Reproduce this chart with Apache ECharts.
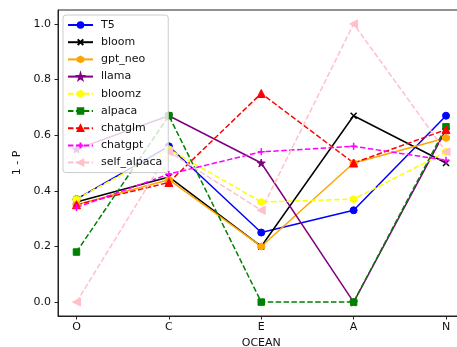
<!DOCTYPE html>
<html>
<head>
<meta charset="utf-8">
<script src="https://cdn.jsdelivr.net/npm/echarts@6/dist/echarts.min.js"></script>
<style>
  html, body { margin: 0; padding: 0; background: #fff; }
  #chart { width: 457px; height: 347px; }
</style>
</head>
<body>
<div id="chart"></div>
<script>
// OCEAN traits on the x axis
const categories = ['O', 'C', 'E', 'A', 'N']
const yTicks = [0, 0.2, 0.4, 0.6, 0.8, 1.0]

const t5 = [0.37, 0.56, 0.25, 0.33, 0.67]
const bloom = [0.36, 0.45, 0.20, 0.67, 0.50]
const gptNeo = [0.35, 0.44, 0.20, 0.50, 0.59]
const llama = [0.55, 0.67, 0.50, 0.00, 0.62]
const bloomz = [0.37, 0.55, 0.36, 0.37, 0.54]
const alpaca = [0.18, 0.67, 0.00, 0.00, 0.63]
const chatglm = [0.35, 0.43, 0.75, 0.50, 0.62]
const chatgpt = [0.34, 0.46, 0.54, 0.56, 0.51]
const selfAlpaca = [0.00, 0.54, 0.33, 1.00, 0.54]

const STAR = 'path://M50,0 L61,35 L98,35 L68,57 L79,91 L50,70 L21,91 L32,57 L2,35 L39,35 Z'
const HEX = 'path://M50,0 L93,25 L93,75 L50,100 L7,75 L7,25 Z'
const CROSS = 'path://M0,0 L10,10 M10,0 L0,10'
const PLUS = 'path://M5,0 L5,10 M0,5 L10,5'
const DASH = [5.5, 2.4]
const FONT = 'DejaVu Sans'

const seriesDefs = [
  { name: 'T5', data: t5, color: '#0000ff', symbol: 'circle', size: 7, dashed: false },
  { name: 'bloom', data: bloom, color: '#000000', symbol: CROSS, size: 6, dashed: false, stroke: true },
  { name: 'gpt_neo', data: gptNeo, color: '#ffa500', symbol: HEX, size: 7, dashed: false },
  { name: 'llama', data: llama, color: '#800080', symbol: STAR, size: 8, dashed: false },
  { name: 'bloomz', data: bloomz, color: '#ffff00', symbol: HEX, size: 7, dashed: true },
  { name: 'alpaca', data: alpaca, color: '#008000', symbol: 'rect', size: 6.5, dashed: true },
  { name: 'chatglm', data: chatglm, color: '#ff0000', symbol: 'triangle', size: 8, dashed: true },
  { name: 'chatgpt', data: chatgpt, color: '#ff00ff', symbol: PLUS, size: 7, dashed: true, stroke: true },
  { name: 'self_alpaca', data: selfAlpaca, color: '#ffc0cb', symbol: 'triangle', size: 8, dashed: true, rotate: 90 }
]

const chart = echarts.init(document.getElementById('chart'))

chart.setOption({
  animation: false,
  grid: {
    left: 58, top: 10, right: -7.5, bottom: 31,
    outerBoundsMode: 'none',
    show: true, borderColor: '#222', borderWidth: 1, backgroundColor: 'transparent'
  },
  legend: {
    orient: 'vertical',
    left: 63,
    top: 15,
    padding: [4.5, 6, 4.5, 4],
    itemWidth: 25,
    itemHeight: 7,
    itemGap: 6.2,
    backgroundColor: 'rgba(255,255,255,0.8)',
    borderColor: '#cccccc',
    borderWidth: 1,
    borderRadius: 3,
    textStyle: { fontFamily: FONT, fontSize: 11, color: '#111', padding: [0, 0, 0, 3] },
    data: seriesDefs.map((s) => s.name)
  },
  xAxis: {
    type: 'value',
    min: -0.2,
    max: 4.2,
    name: 'OCEAN',
    nameLocation: 'middle',
    nameGap: 20,
    nameTextStyle: { fontFamily: FONT, fontSize: 11, color: '#111' },
    axisLine: { show: true, onZero: false, lineStyle: { color: '#222', width: 1 } },
    axisTick: { show: true, length: 3.5, lineStyle: { color: '#222' }, customValues: categories.map((c, i) => i) },
    axisLabel: {
      margin: 6,
      fontFamily: FONT, fontSize: 11, color: '#111',
      customValues: categories.map((c, i) => i),
      formatter: (v) => categories[Math.round(v)]
    },
    splitLine: { show: false }
  },
  yAxis: {
    type: 'value',
    min: -0.05,
    max: 1.05,
    name: '1 - P',
    nameLocation: 'middle',
    nameGap: 33,
    nameTextStyle: { fontFamily: FONT, fontSize: 11, color: '#111' },
    axisLine: { show: true, onZero: false, lineStyle: { color: '#222', width: 1 } },
    axisTick: { show: true, length: 3.5, lineStyle: { color: '#222' }, customValues: yTicks },
    axisLabel: {
      margin: 7,
      fontFamily: FONT, fontSize: 11, color: '#111',
      customValues: yTicks,
      formatter: (v) => v.toFixed(1)
    },
    splitLine: { show: false }
  },
  series: seriesDefs.map((s) => ({
    name: s.name,
    type: 'line',
    data: s.data.map((v, i) => [i, v]),
    symbol: s.symbol,
    symbolSize: s.size,
    symbolRotate: s.rotate || 0,
    showAllSymbol: true,
    lineStyle: { color: s.color, width: 1.5, type: s.dashed ? DASH : 'solid' },
    itemStyle: { color: s.color, borderColor: s.color, borderWidth: s.stroke ? 1.5 : 1 },
    emphasis: { disabled: true }
  }))
})
</script>
</body>
</html>
